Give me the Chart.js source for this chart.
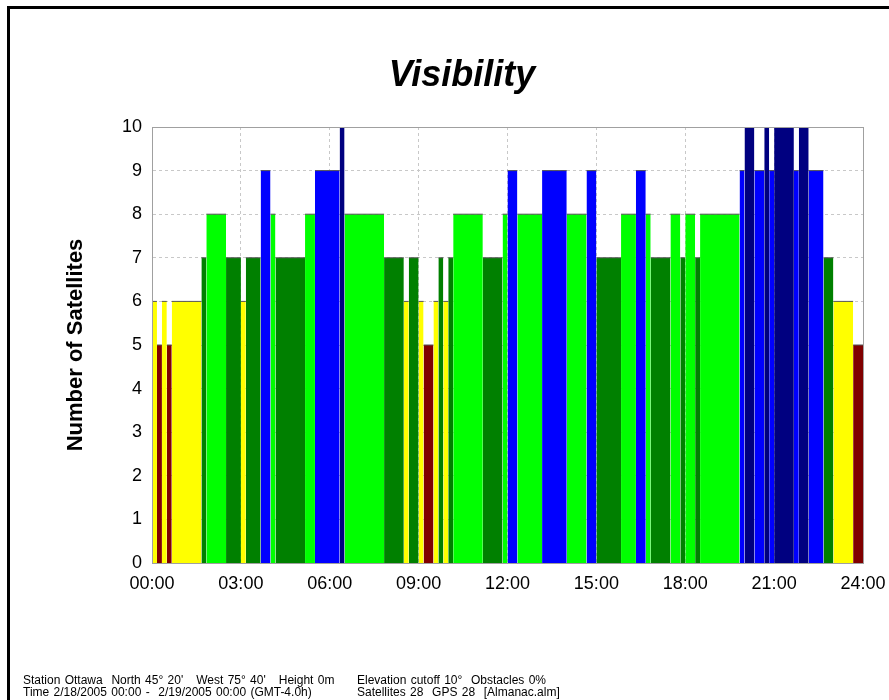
<!DOCTYPE html>
<html>
<head>
<meta charset="utf-8">
<script src="https://cdn.jsdelivr.net/npm/chart.js@4/dist/chart.umd.min.js"></script>
<style>
  html, body { margin: 0; padding: 0; background: #fff; }
  #wrap { position: relative; width: 889px; height: 700px; overflow: hidden; font-family: "Liberation Sans", Arial, sans-serif; }
  #frame { position: absolute; left: 7px; top: 6px; width: 900px; height: 720px; border-left: 3px solid #000; border-top: 3px solid #000; }
  #title { position: absolute; left: 0; width: 924px; top: 56px; text-align: center; font: italic bold 36px "Liberation Sans", Arial, sans-serif; line-height: 36px; }
  .foot { position: absolute; top: 674px; font-size: 12px; line-height: 12px; white-space: pre; color: #000; word-spacing: 1px; }
  canvas { position: absolute; left: 0; top: 0; }
</style>
</head>
<body>
<div id="wrap">
  <div id="frame"></div>
  <canvas id="chart" width="889" height="700"></canvas>
  <div id="title">Visibility</div>
  <div class="foot" style="left:23px">Station Ottawa  North 45° 20'   West 75° 40'   Height 0m
Time 2/18/2005 00:00 -  2/19/2005 00:00 (GMT-4.0h)</div>
  <div class="foot" style="left:357px">Elevation cutoff 10°  Obstacles 0%
Satellites 28  GPS 28  [Almanac.alm]</div>
</div>
<script>
// visibility steps: start minute of each interval and number of satellites seen
const segStart = [0, 10, 20, 30, 40, 100, 110, 150, 180, 190,
  220, 240, 250, 310, 330, 380, 390, 470, 510, 520,
  540, 550, 570, 580, 590, 600, 610, 670, 710, 720,
  740, 790, 840, 880, 900, 950, 980, 1000, 1010, 1050,
  1070, 1080, 1100, 1110, 1190, 1200, 1220, 1240, 1250, 1260,
  1300, 1310, 1330, 1360, 1380, 1420];
const satCount = [6, 5, 6, 5, 6, 7, 8, 7, 6, 7,
  9, 8, 7, 8, 9, 10, 8, 7, 6, 7,
  6, 5, 6, 7, 6, 7, 8, 7, 8, 9,
  8, 9, 8, 9, 7, 8, 9, 8, 7, 8,
  7, 8, 7, 8, 9, 10, 9, 10, 9, 10,
  9, 10, 9, 7, 6, 5];
const dayEnd = 1440;

const countColors = { 5: '#800000', 6: '#ffff00', 7: '#008000', 8: '#00ff00', 9: '#0000ff', 10: '#000080' };

const font = '"Liberation Sans", Arial, sans-serif';

function hhmm(m) {
  const h = Math.floor(m / 60), mm = m % 60;
  return String(h).padStart(2, '0') + ':' + String(mm).padStart(2, '0');
}

const datasets = segStart.map((s, i) => {
  const e = i + 1 < segStart.length ? segStart[i + 1] : dayEnd;
  return {
    data: [{ x: s, y: satCount[i] }, { x: e, y: satCount[i] }],
    fill: 'origin',
    backgroundColor: countColors[satCount[i]],
    borderColor: '#555',
    borderWidth: 1,
    pointRadius: 0,
    tension: 0
  };
});

// gray box round the plot area
const areaBox = {
  id: 'areaBox',
  afterDatasetsDraw(chart) {
    const a = chart.chartArea, ctx = chart.ctx;
    ctx.save();
    ctx.strokeStyle = '#a0a0a0';
    ctx.lineWidth = 1;
    ctx.strokeRect(Math.round(a.left) + 0.5, Math.round(a.top) + 0.5, Math.round(a.right - a.left), Math.round(a.bottom - a.top));
    ctx.restore();
  }
};

new Chart(document.getElementById('chart').getContext('2d'), {
  type: 'line',
  data: { datasets },
  plugins: [areaBox],
  options: {
    responsive: false,
    animation: false,
    events: [],
    layout: { padding: { left: 52, right: 26, top: 127, bottom: 97 } },
    plugins: { legend: { display: false }, tooltip: { enabled: false }, title: { display: false } },
    scales: {
      x: {
        type: 'linear', min: 0, max: dayEnd,
        afterFit(s) { s.height = 40; s.paddingLeft = 0; s.paddingRight = 0; },
        ticks: { stepSize: 180, autoSkip: false, maxRotation: 0, padding: 10, color: '#000',
          font: { family: font, size: 18 }, callback: v => hhmm(v) },
        grid: { color: '#c8c8c8', drawTicks: false, tickLength: 0 },
        border: { display: true, color: '#a0a0a0', dash: [3, 3] }
      },
      y: {
        min: 0, max: 10,
        afterFit(s) { s.width = 100; s.paddingTop = 0; s.paddingBottom = 0; },
        ticks: { stepSize: 1, padding: 10, color: '#000', font: { family: font, size: 18 } },
        grid: { color: '#c8c8c8', drawTicks: false, tickLength: 0 },
        border: { display: true, color: '#a0a0a0', dash: [3, 3] },
        title: { display: true, text: 'Number of Satellites', color: '#000',
          font: { family: font, size: 22, weight: 'bold' }, padding: { top: 11, bottom: 0 } }
      }
    }
  }
});
</script>
</body>
</html>
